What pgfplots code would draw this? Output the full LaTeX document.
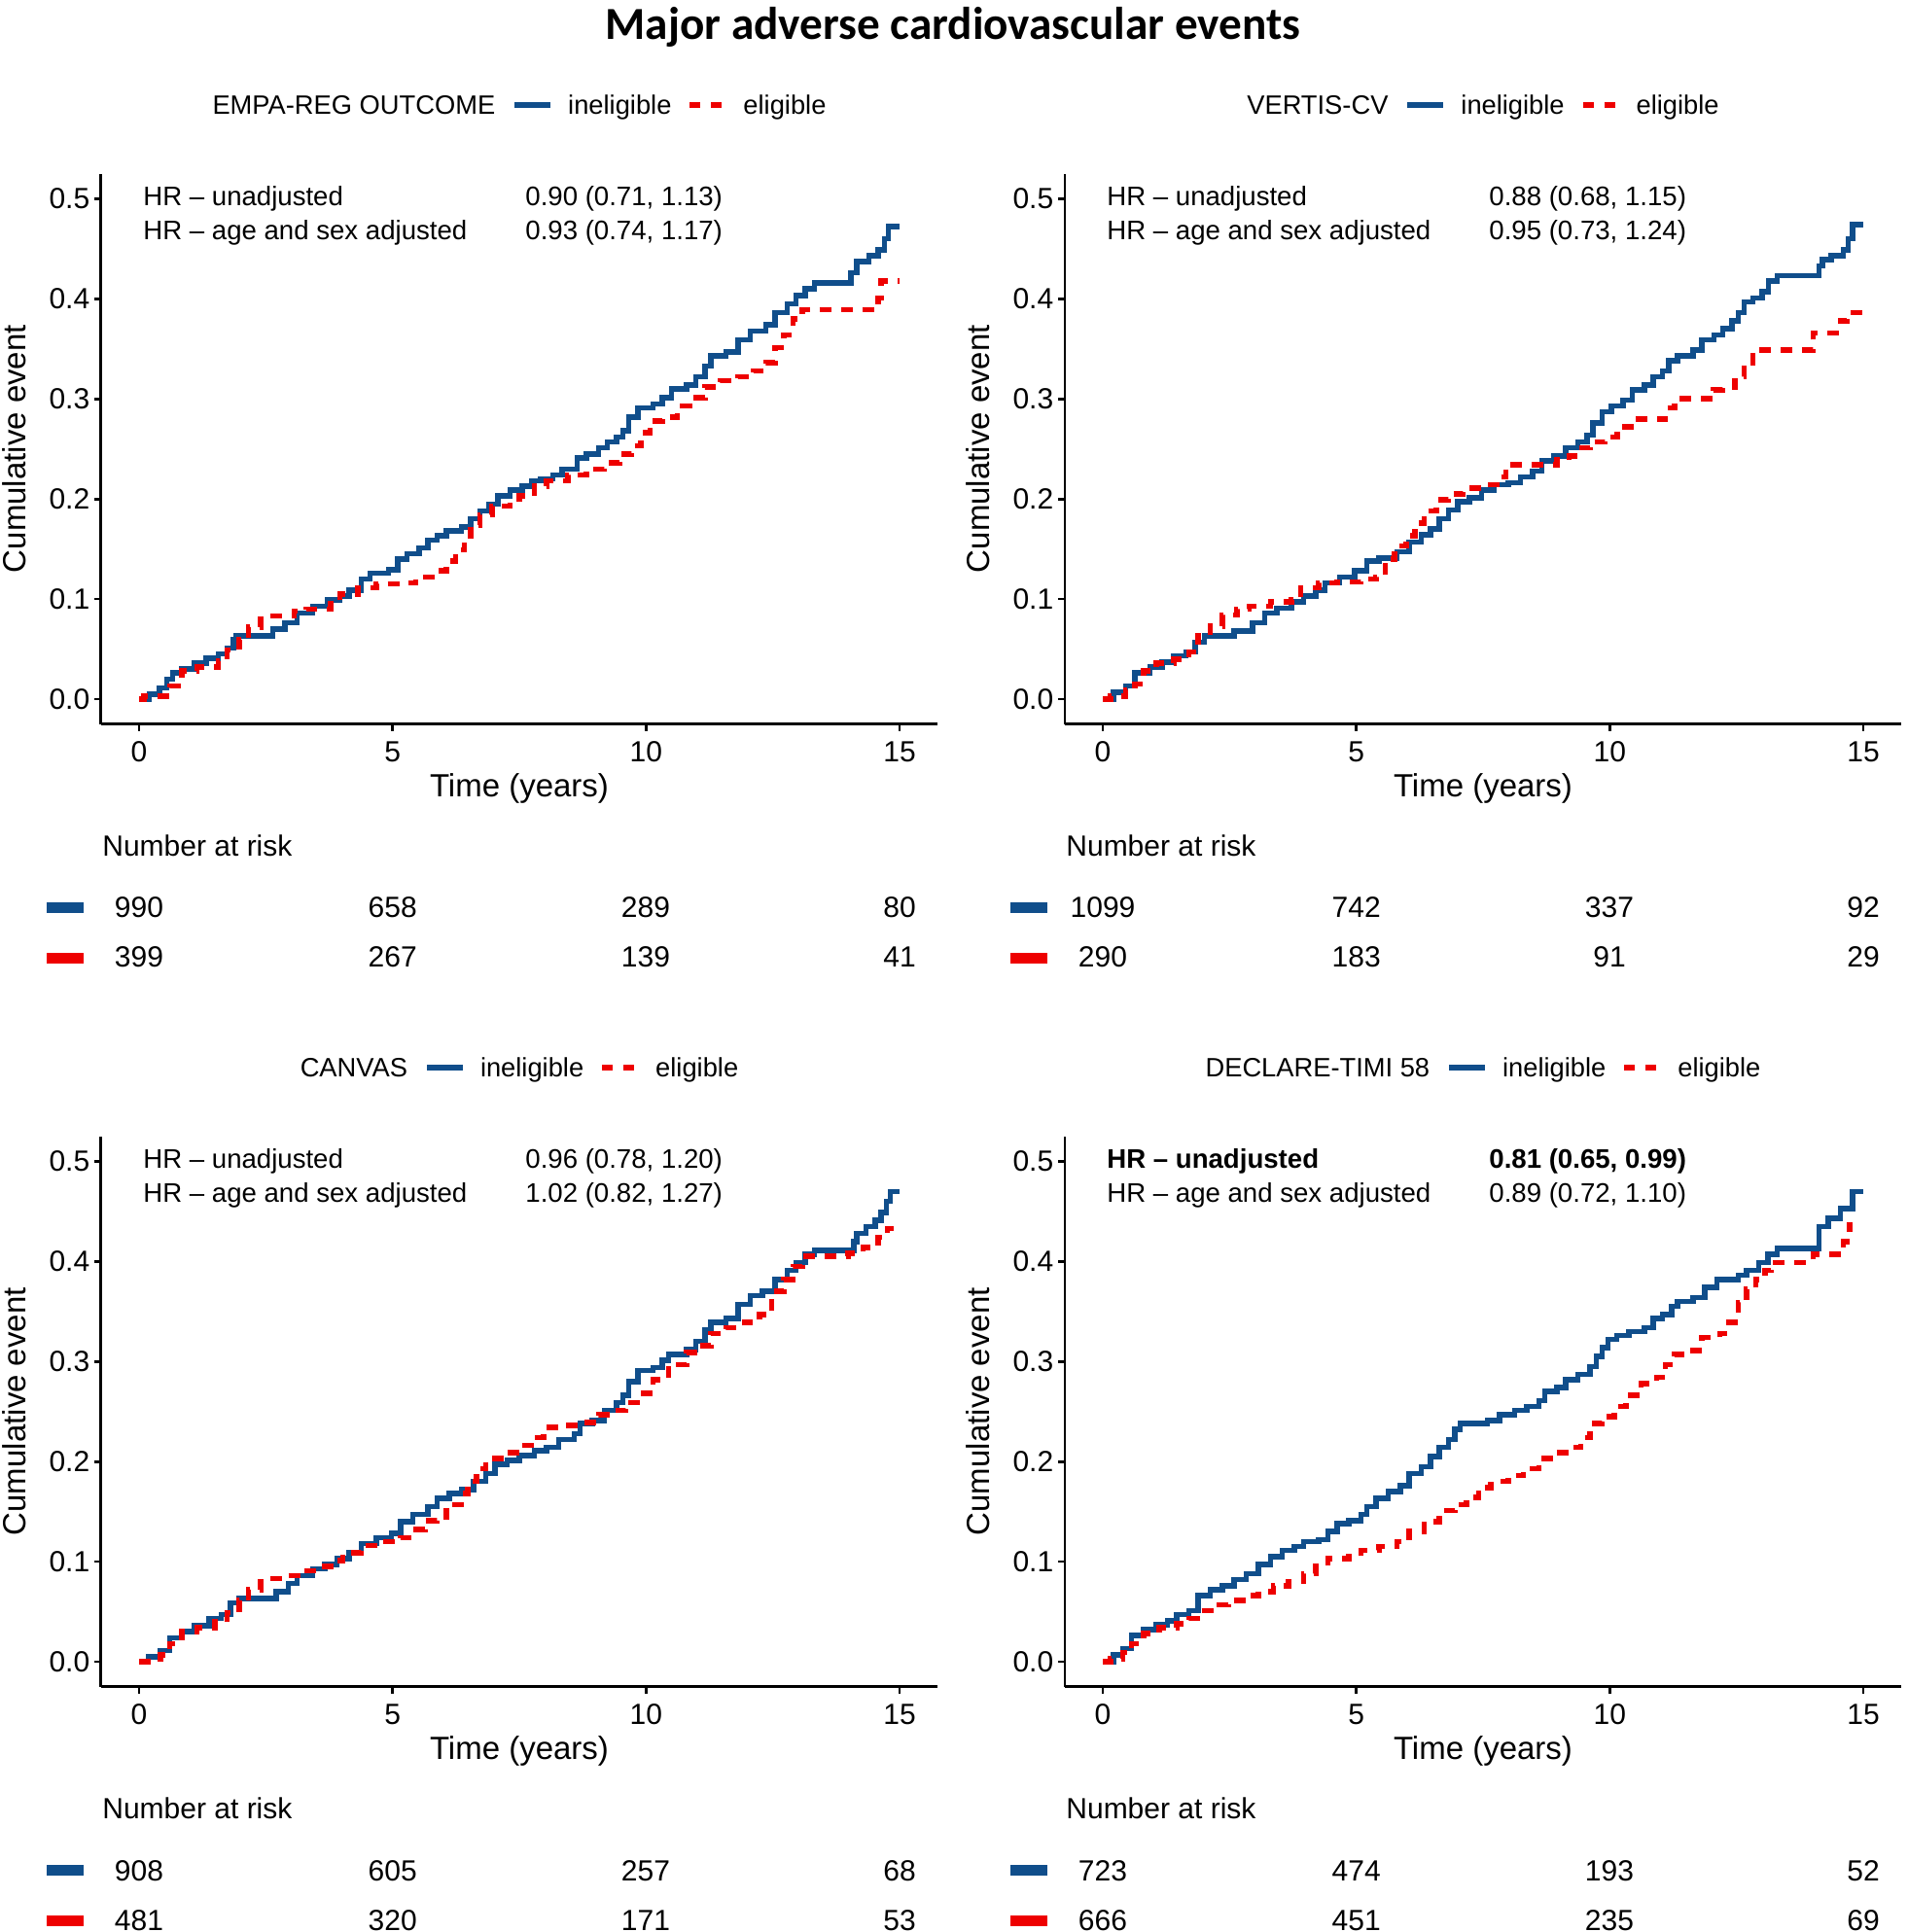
\documentclass[border=0pt]{standalone}
\usepackage{fontspec}
\setmainfont{Liberation Sans}
\newfontfamily\titlefont{Carlito}
\usepackage{pgfplots}
\pgfplotsset{compat=1.18}
\definecolor{cblue}{RGB}{16,78,139}
\definecolor{cred}{RGB}{238,0,0}

\newcommand{\legfont}{\fontsize{13.65}{16}\selectfont}
\newcommand{\rskfont}{\fontsize{15}{18}\selectfont}
\newcommand{\hrfont}{\fontsize{13.8}{16}\selectfont}
\newcommand{\legblue}{\raisebox{3.6pt}{\textcolor{cblue}{\rule{18.5pt}{2.75pt}}}}
\newcommand{\legred}{\raisebox{3.6pt}{\textcolor{cred}{\rule{5.5pt}{2.75pt}}}\hspace{5.5pt}\raisebox{3.6pt}{\textcolor{cred}{\rule{5.5pt}{2.75pt}}}}
\newcommand{\legendrow}[1]{#1\hspace{10pt}\legblue\hspace{9pt}ineligible\hspace{9.5pt}\legred\hspace{11pt}eligible}

\pgfplotsset{
 kmaxis/.style={
  scale only axis, width=430.1pt, height=283pt,
  xmin=-0.75, xmax=15.75, ymin=-0.025, ymax=0.525,
  axis x line*=bottom, axis y line*=left,
  axis line style={line width=1.4pt, black},
  tick style={line width=1.4pt, black},
  tick align=outside, major tick length=3.5pt,
  xtick={0,5,10,15}, ytick={0,0.1,0.2,0.3,0.4,0.5},
  /pgf/number format/assume math mode=true,
  tick label style={font=\fontsize{15}{17}\selectfont, black},
  yticklabel style={xshift=1.2pt, /pgf/number format/.cd, fixed, fixed zerofill, precision=1},
  xticklabel style={yshift=-2pt},
  xlabel={Time (years)}, ylabel={Cumulative event},
  label style={font=\fontsize{16.5}{19}\selectfont},
  xlabel style={at={(axis description cs:0.5,-0.117)}, anchor=center},
  ylabel style={at={(axis description cs:-0.1035,0.5)}, anchor=center},
  clip=false,
 },
 blueline/.style={cblue, line width=2.75pt, const plot, mark=none},
 redline/.style={cred, line width=2.75pt, const plot, mark=none, dash pattern=on 6pt off 5pt},
}

% ---------------- data ----------------
\pgfplotstableread{
x y
0 0
0.2 0.005
0.4 0.011
0.55 0.020
0.66 0.026
0.84 0.030
1.08 0.036
1.32 0.041
1.56 0.045
1.74 0.051
1.86 0.059
1.92 0.063
2.64 0.070
2.88 0.076
3.12 0.086
3.42 0.093
3.72 0.099
3.96 0.103
4.14 0.109
4.38 0.120
4.56 0.126
4.92 0.129
5.1 0.140
5.28 0.145
5.52 0.151
5.7 0.159
5.88 0.163
6.06 0.168
6.36 0.172
6.54 0.180
6.72 0.188
6.9 0.195
7.08 0.203
7.32 0.209
7.56 0.213
7.74 0.218
7.92 0.220
8.16 0.224
8.34 0.230
8.64 0.241
8.82 0.245
9.06 0.251
9.24 0.257
9.42 0.262
9.54 0.268
9.66 0.282
9.84 0.291
10.14 0.295
10.32 0.301
10.5 0.310
10.8 0.314
10.98 0.322
11.16 0.333
11.28 0.343
11.58 0.347
11.82 0.359
12.06 0.368
12.36 0.374
12.54 0.386
12.78 0.395
12.96 0.403
13.14 0.410
13.32 0.416
14.04 0.426
14.16 0.437
14.4 0.443
14.58 0.449
14.7 0.460
14.78 0.472
15 0.472
}\tlblue
\pgfplotstableread{
x y
0 0
0.1 0.003
0.6 0.013
0.84 0.028
1.14 0.032
1.56 0.038
1.74 0.049
1.98 0.059
2.16 0.072
2.4 0.083
3.06 0.088
3.3 0.090
3.78 0.095
3.96 0.105
4.32 0.111
4.68 0.115
5.22 0.116
5.46 0.122
5.88 0.128
6.06 0.138
6.24 0.149
6.42 0.163
6.54 0.174
6.72 0.184
6.96 0.193
7.32 0.197
7.5 0.203
7.8 0.213
8.04 0.218
8.46 0.224
8.82 0.230
9.18 0.236
9.48 0.245
9.72 0.253
9.9 0.266
10.08 0.278
10.32 0.282
10.62 0.293
10.86 0.301
11.16 0.312
11.46 0.318
11.82 0.322
12.12 0.328
12.36 0.336
12.54 0.351
12.72 0.364
12.9 0.380
13.08 0.389
14.58 0.401
14.64 0.418
15 0.418
}\tlred
\pgfplotstableread{
x y
0 0
0.21 0.007
0.45 0.013
0.63 0.026
0.93 0.032
1.17 0.037
1.4 0.043
1.64 0.047
1.82 0.057
2.0 0.063
2.59 0.068
2.95 0.076
3.19 0.086
3.43 0.091
3.72 0.097
3.96 0.103
4.2 0.109
4.38 0.116
4.67 0.122
4.97 0.128
5.21 0.138
5.45 0.141
5.8 0.147
6.04 0.157
6.28 0.164
6.46 0.170
6.64 0.180
6.82 0.189
7.0 0.197
7.23 0.201
7.47 0.209
7.71 0.214
8.0 0.216
8.24 0.222
8.48 0.228
8.66 0.238
8.9 0.243
9.13 0.251
9.37 0.257
9.55 0.264
9.67 0.276
9.85 0.287
10.03 0.293
10.26 0.299
10.44 0.309
10.68 0.314
10.86 0.322
11.04 0.328
11.16 0.338
11.34 0.343
11.64 0.349
11.82 0.359
12.06 0.364
12.23 0.370
12.41 0.378
12.53 0.386
12.65 0.397
12.82 0.401
13.0 0.407
13.13 0.418
13.3 0.423
14.13 0.433
14.19 0.439
14.37 0.443
14.61 0.449
14.7 0.460
14.79 0.474
15 0.474
}\trblue
\pgfplotstableread{
x y
0 0
0.15 0.003
0.45 0.009
0.63 0.015
0.81 0.028
1.05 0.036
1.4 0.040
1.7 0.047
1.88 0.063
2.12 0.073
2.36 0.084
2.65 0.090
2.89 0.093
3.31 0.097
3.72 0.099
3.9 0.111
4.26 0.116
4.62 0.117
5.09 0.120
5.39 0.122
5.57 0.140
5.75 0.153
5.98 0.163
6.16 0.176
6.34 0.188
6.58 0.199
6.82 0.205
7.11 0.211
7.47 0.214
7.83 0.222
7.95 0.234
8.96 0.239
9.2 0.243
9.37 0.251
9.61 0.257
9.91 0.262
10.15 0.272
10.5 0.280
11.1 0.291
11.28 0.300
12.05 0.309
12.23 0.312
12.47 0.322
12.65 0.336
12.82 0.349
14.01 0.366
14.55 0.378
14.67 0.386
15 0.386
}\trred
\pgfplotstableread{
x y
0 0
0.18 0.005
0.42 0.011
0.6 0.024
0.84 0.030
1.08 0.036
1.38 0.043
1.62 0.047
1.8 0.059
1.98 0.063
2.7 0.070
2.94 0.078
3.12 0.086
3.42 0.093
3.66 0.097
3.9 0.103
4.14 0.109
4.38 0.118
4.68 0.124
4.98 0.128
5.16 0.140
5.4 0.147
5.7 0.155
5.88 0.163
6.12 0.168
6.36 0.172
6.6 0.180
6.84 0.188
7.02 0.197
7.26 0.201
7.5 0.206
7.8 0.211
8.04 0.214
8.28 0.222
8.58 0.228
8.7 0.238
8.94 0.241
9.18 0.251
9.42 0.259
9.54 0.266
9.66 0.280
9.84 0.291
10.14 0.294
10.32 0.301
10.44 0.307
10.8 0.312
10.98 0.320
11.16 0.332
11.28 0.339
11.58 0.343
11.82 0.357
12.06 0.366
12.3 0.370
12.54 0.382
12.78 0.391
12.96 0.399
13.14 0.407
13.32 0.411
14.1 0.420
14.16 0.428
14.34 0.435
14.52 0.441
14.64 0.449
14.74 0.460
14.82 0.470
15 0.470
}\blblue
\pgfplotstableread{
x y
0 0
0.18 0.003
0.42 0.007
0.6 0.018
0.84 0.030
1.14 0.034
1.5 0.040
1.74 0.049
1.98 0.061
2.16 0.072
2.4 0.083
2.88 0.086
3.18 0.091
3.54 0.095
3.78 0.101
4.02 0.109
4.38 0.116
4.8 0.120
5.16 0.124
5.4 0.132
5.64 0.141
5.88 0.145
6.06 0.157
6.36 0.168
6.48 0.180
6.66 0.193
6.84 0.203
7.14 0.209
7.44 0.216
7.74 0.224
7.98 0.234
8.4 0.236
8.7 0.239
9.06 0.247
9.3 0.251
9.6 0.259
9.9 0.268
10.14 0.282
10.44 0.297
10.8 0.309
11.04 0.316
11.28 0.328
11.58 0.334
11.94 0.339
12.24 0.347
12.48 0.370
12.72 0.382
12.9 0.395
13.08 0.405
13.98 0.408
14.28 0.414
14.58 0.424
14.76 0.433
14.88 0.433
}\blred
\pgfplotstableread{
x y
0 0
0.21 0.007
0.39 0.013
0.57 0.026
0.81 0.032
1.05 0.037
1.28 0.041
1.46 0.047
1.7 0.051
1.88 0.066
2.12 0.072
2.36 0.076
2.59 0.082
2.83 0.088
3.07 0.097
3.31 0.105
3.54 0.111
3.78 0.115
3.96 0.120
4.26 0.122
4.44 0.130
4.62 0.138
4.85 0.141
5.09 0.147
5.21 0.155
5.39 0.163
5.63 0.170
5.87 0.176
6.04 0.188
6.28 0.195
6.46 0.205
6.64 0.214
6.82 0.222
6.94 0.232
7.05 0.238
7.59 0.241
7.83 0.247
8.12 0.251
8.36 0.255
8.6 0.261
8.72 0.270
8.96 0.274
9.13 0.282
9.37 0.287
9.61 0.295
9.73 0.305
9.85 0.314
9.96 0.322
10.14 0.326
10.38 0.330
10.68 0.334
10.86 0.343
11.04 0.347
11.22 0.355
11.34 0.360
11.64 0.364
11.87 0.374
12.11 0.382
12.53 0.386
12.7 0.391
12.94 0.399
13.12 0.407
13.3 0.413
14.13 0.435
14.31 0.443
14.55 0.453
14.79 0.470
15 0.470
}\brblue
\pgfplotstableread{
x y
0 0
0.15 0.003
0.39 0.009
0.57 0.018
0.81 0.028
1.11 0.034
1.46 0.038
1.7 0.043
1.94 0.051
2.24 0.057
2.47 0.061
2.83 0.066
3.07 0.070
3.37 0.076
3.66 0.080
3.96 0.088
4.2 0.095
4.44 0.103
4.85 0.105
5.09 0.111
5.45 0.115
5.8 0.120
6.04 0.130
6.34 0.140
6.64 0.151
6.94 0.157
7.17 0.164
7.41 0.174
7.65 0.180
8.0 0.186
8.3 0.193
8.6 0.203
8.9 0.209
9.2 0.214
9.43 0.224
9.61 0.238
9.85 0.245
10.09 0.255
10.32 0.266
10.62 0.278
10.92 0.284
11.1 0.297
11.28 0.307
11.64 0.311
11.82 0.324
12.17 0.328
12.35 0.339
12.53 0.359
12.7 0.372
12.88 0.382
13.06 0.391
13.18 0.399
14.01 0.407
14.61 0.420
14.73 0.437
14.79 0.437
}\brred

% risk table + legend block: #1 dx, #2 dy (px), #3 row 1, #4 row 2, #5 legend title
\newcommand{\risktable}[5]{%
 \begin{scope}[shift={(#1,#2)}]
  \node[anchor=base west, inner sep=0, font=\rskfont] at (105,881) {Number at risk};
  \fill[cblue] (48,928) rectangle (86,939);
  \fill[cred] (48,980) rectangle (86,991);
  \foreach \xx/\nn in {#3} {\node[anchor=base, inner sep=0, font=\rskfont] at (\xx,944) {\nn};}
  \foreach \xx/\nn in {#4} {\node[anchor=base, inner sep=0, font=\rskfont] at (\xx,995) {\nn};}
  \node[anchor=base, inner sep=0, font=\legfont] at (534,118) {\legendrow{#5}};
 \end{scope}}

\newcommand{\hrtext}[5]{%
 \node[anchor=base west, inner sep=0, font=\hrfont#5] at (axis description cs:0.0501,0.9413) {HR – unadjusted};
 \node[anchor=base west, inner sep=0, font=\hrfont] at (axis description cs:0.0501,0.880) {HR – age and sex adjusted};
 \node[anchor=base west, inner sep=0, font=\hrfont#5] at (axis description cs:0.507,0.9413) {#1 (#2)};
 \node[anchor=base west, inner sep=0, font=\hrfont] at (axis description cs:0.507,0.880) {#3 (#4)};
}

\begin{document}
\begin{tikzpicture}
\useasboundingbox (0pt,0pt) rectangle (980.5pt,993.5pt);

% top-left
\begin{axis}[kmaxis, at={(51.95pt,621.15pt)}, anchor=south west]
 \addplot[blueline] table[x=x,y=y] {\tlblue};
 \addplot[redline] table[x=x,y=y] {\tlred};
 \hrtext{0.90}{0.71, 1.13}{0.93}{0.74, 1.17}{}
\end{axis}

% top-right
\begin{axis}[kmaxis, at={(547.45pt,621.15pt)}, anchor=south west]
 \addplot[blueline] table[x=x,y=y] {\trblue};
 \addplot[redline] table[x=x,y=y] {\trred};
 \hrtext{0.88}{0.68, 1.15}{0.95}{0.73, 1.24}{}
\end{axis}

% bottom-left
\begin{axis}[kmaxis, at={(51.95pt,126.15pt)}, anchor=south west]
 \addplot[blueline] table[x=x,y=y] {\blblue};
 \addplot[redline] table[x=x,y=y] {\blred};
 \hrtext{0.96}{0.78, 1.20}{1.02}{0.82, 1.27}{}
\end{axis}

% bottom-right
\begin{axis}[kmaxis, at={(547.45pt,126.15pt)}, anchor=south west]
 \addplot[blueline] table[x=x,y=y] {\brblue};
 \addplot[redline] table[x=x,y=y] {\brred};
 \hrtext{0.81}{0.65, 0.99}{0.89}{0.72, 1.10}{\bfseries}
\end{axis}

% absolute layer in pixel units (origin top-left, y down)
\begin{scope}[x=0.5pt, y=-0.5pt, shift={(0pt,993.5pt)}]
 \node[anchor=base, inner sep=0, font=\titlefont\bfseries\fontsize{23.6}{28}\selectfont] at (980,41) {Major adverse cardiovascular events};
 \risktable{0}{0}{143/990,403.7/658,664/289,925/80}{143/399,403.7/267,664/139,925/41}{EMPA-REG OUTCOME}
 \risktable{991}{0}{143/1099,403.7/742,664/337,925/92}{143/290,403.7/183,664/91,925/29}{VERTIS-CV}
 \risktable{0}{990}{143/908,403.7/605,664/257,925/68}{143/481,403.7/320,664/171,925/53}{CANVAS}
 \risktable{991}{990}{143/723,403.7/474,664/193,925/52}{143/666,403.7/451,664/235,925/69}{DECLARE-TIMI 58}
\end{scope}
\end{tikzpicture}
\end{document}
